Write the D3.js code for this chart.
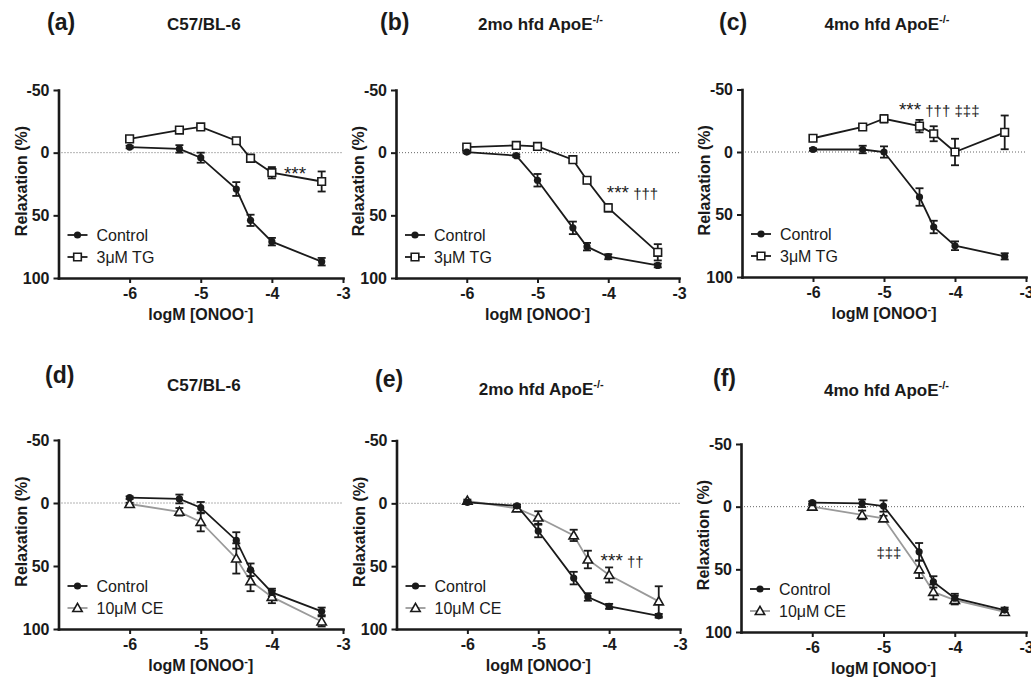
<!DOCTYPE html>
<html>
<head>
<meta charset="utf-8">
<script src="https://cdn.jsdelivr.net/npm/d3@7"></script>
<style>
  body { margin: 0; background: #fff; }
  svg { display: block; font-family: "Liberation Sans", Arial, sans-serif; }
  .note { opacity: 0.99; }
</style>
</head>
<body>
<svg id="chart" width="1031" height="680"></svg>
<script>
// log molar ONOO- doses
var doses = [-6, -5.3, -5, -4.5, -4.3, -4, -3.3];
var xTicks = [-6, -5, -4, -3];
var yTicks = [-50, 0, 50, 100];

// relaxation (%) means and SEM
var aControl    = [-4.5, -3, 4, 29, 54, 71, 87];
var aControlErr = [1, 3, 4, 5.5, 4.5, 3, 3];
var aTG         = [-11, -18, -20.5, -9.5, 4.5, 16, 23];
var aTGErr      = [1.5, 1.5, 1.5, 2, 3, 4.5, 8];

var bControl    = [-0.5, 2.4, 22, 60, 75, 83, 90];
var bControlErr = [1, 1, 5, 5, 3, 2, 1.5];
var bTG         = [-4.5, -5.8, -5, 5.6, 22, 44, 79.5];
var bTGErr      = [1.5, 1.5, 1.5, 1.5, 2.5, 3, 6.5];

var cControl    = [-2, -2, 0, 36, 60, 75, 83.5];
var cControlErr = [1, 3, 4.5, 7, 5, 3.5, 2.5];
var cTG         = [-11, -20, -26.6, -20.7, -14.6, 0, -15.7];
var cTGErr      = [1.5, 1.5, 3, 5, 6, 10.6, 13.5];

var dControl    = [-4.2, -3.2, 3.7, 29.7, 53, 71, 86];
var dControlErr = [1, 3.5, 4.5, 6.5, 5, 3, 3];
var dCE         = [0.8, 7, 15, 44, 62, 74.5, 94];
var dCEErr      = [1, 3, 7.5, 12, 8, 5, 4];

var eControl    = [-0.8, 2, 22, 59.5, 74.5, 82, 89.5];
var eControlErr = [1, 1, 5, 5, 3, 2, 1.5];
var eCE         = [-2, 4, 11.3, 25.5, 44.7, 57, 78];
var eCEErr      = [1, 1.5, 5, 4.5, 7, 6, 12];

var fControl    = [-3.2, -2.7, -0.5, 36, 60, 73, 82.5];
var fControlErr = [1, 3, 4.5, 7, 4.5, 3.5, 2];
var fCE         = [0, 6.6, 9.3, 50, 68, 74.5, 84];
var fCEErr      = [1, 3.5, 2, 7, 6, 3.5, 2];

var panels = [
  {tag: '(a)', title: 'C57/BL-6', sup: '', trtName: '3\u03bcM TG', kind: 'square',
   ctrl: aControl, ctrlErr: aControlErr, trt: aTG, trtErr: aTGErr,
   note: '***', noteAt: [-3.83, 22],
   x0: 58.5, x1: 343, y0: 90, y1: 278, tagX: 47, tagY: 30, titleY: 30},
  {tag: '(b)', title: '2mo hfd ApoE', sup: '-/-', trtName: '3\u03bcM TG', kind: 'square',
   ctrl: bControl, ctrlErr: bControlErr, trt: bTG, trtErr: bTGErr,
   note: '*** \u2020\u2020\u2020', noteAt: [-4.02, 37],
   x0: 396, x1: 679, y0: 90, y1: 278, tagX: 380, tagY: 30, titleY: 30},
  {tag: '(c)', title: '4mo hfd ApoE', sup: '-/-', trtName: '3\u03bcM TG', kind: 'square',
   ctrl: cControl, ctrlErr: cControlErr, trt: cTG, trtErr: cTGErr,
   note: '*** \u2020\u2020\u2020 \u2021\u2021\u2021', noteAt: [-4.79, -28.5],
   x0: 742, x1: 1026, y0: 89.5, y1: 277, tagX: 719, tagY: 30, titleY: 30},
  {tag: '(d)', title: 'C57/BL-6', sup: '', trtName: '10\u03bcM CE', kind: 'triangle',
   ctrl: dControl, ctrlErr: dControlErr, trt: dCE, trtErr: dCEErr,
   note: '', noteAt: [0, 0],
   x0: 58.5, x1: 343, y0: 440, y1: 629, tagX: 45, tagY: 383, titleY: 391},
  {tag: '(e)', title: '2mo hfd ApoE', sup: '-/-', trtName: '10\u03bcM CE', kind: 'triangle',
   ctrl: eControl, ctrlErr: eControlErr, trt: eCE, trtErr: eCEErr,
   note: '*** \u2020\u2020', noteAt: [-4.12, 51],
   x0: 396.5, x1: 680, y0: 440.5, y1: 629, tagX: 375, tagY: 387, titleY: 395},
  {tag: '(f)', title: '4mo hfd ApoE', sup: '-/-', trtName: '10\u03bcM CE', kind: 'triangle',
   ctrl: fControl, ctrlErr: fControlErr, trt: fCE, trtErr: fCEErr,
   note: '\u2021\u2021\u2021', noteAt: [-5.1, 41],
   x0: 741, x1: 1026, y0: 444, y1: 632, tagX: 713, tagY: 386, titleY: 396}
];

var svg = d3.select('#chart');
var ink = '#1a1a1a';

function marker(g, kind, cx, cy) {
  if (kind === 'circle') {
    g.append('circle').attr('cx', cx).attr('cy', cy).attr('r', 3.6).attr('fill', ink);
  } else {
    var sym = kind === 'square' ? d3.symbolSquare : d3.symbolTriangle;
    var size = kind === 'square' ? 58 : 38;
    g.append('path')
      .attr('d', d3.symbol().type(sym).size(size)())
      .attr('transform', 'translate(' + cx + ',' + (kind === 'triangle' ? cy + 0.8 : cy) + ')')
      .attr('fill', '#fff')
      .attr('stroke', ink)
      .attr('stroke-width', 1.6);
  }
}

function drawPanel(p) {
  var x = d3.scaleLinear().domain([-7, -3]).range([p.x0, p.x1]);
  var y = d3.scaleLinear().domain([-50, 100]).range([p.y0, p.y1]);
  var g = svg.append('g');

  // headings
  g.append('text').attr('x', p.tagX).attr('y', p.tagY)
    .attr('font-size', 23).attr('font-weight', 'bold').attr('fill', ink).text(p.tag);
  var t = g.append('text').attr('x', (p.x0 + p.x1) / 2 + 3).attr('y', p.titleY)
    .attr('text-anchor', 'middle').attr('font-size', 17).attr('font-weight', 'bold').attr('fill', ink);
  t.append('tspan').text(p.title);
  if (p.sup) t.append('tspan').attr('font-size', 11).attr('dy', -7).text(p.sup);

  // zero reference
  g.append('line')
    .attr('x1', x(-7)).attr('x2', x(-3)).attr('y1', y(0)).attr('y2', y(0))
    .attr('stroke', '#666').attr('stroke-width', 1).attr('stroke-dasharray', '1,2');

  // axes
  var yAxis = d3.axisLeft(y).tickValues(yTicks).tickSize(5).tickSizeOuter(0).tickPadding(4)
    .tickFormat(function(d) { return String(d); });
  var xAxis = d3.axisBottom(x).tickValues(xTicks).tickSize(5).tickSizeOuter(0).tickPadding(5)
    .tickFormat(function(d) { return String(d); });

  var ya = g.append('g').attr('transform', 'translate(' + p.x0 + ',0)').call(yAxis);
  var xa = g.append('g').attr('transform', 'translate(0,' + p.y1 + ')').call(xAxis);
  [ya, xa].forEach(function(a) {
    a.select('.domain').attr('stroke', ink).attr('stroke-width', 2.6).attr('stroke-linecap', 'square');
    a.selectAll('.tick line').attr('stroke', ink).attr('stroke-width', 2);
    a.selectAll('.tick text').attr('fill', ink).attr('font-size', 16).attr('font-weight', 'bold')
      .attr('font-family', '"Liberation Sans", Arial, sans-serif');
  });

  // axis titles
  g.append('text')
    .attr('transform', 'translate(' + (p.x0 - 32) + ',' + ((p.y0 + p.y1) / 2 - 3) + ') rotate(-90)')
    .attr('text-anchor', 'middle').attr('font-size', 16).attr('font-weight', 'bold').attr('fill', ink)
    .text('Relaxation (%)');
  var xt = g.append('text').attr('x', (p.x0 + p.x1) / 2).attr('y', p.y1 + 42)
    .attr('text-anchor', 'middle').attr('font-size', 16).attr('font-weight', 'bold').attr('fill', ink);
  xt.append('tspan').text('logM [ONOO');
  xt.append('tspan').attr('font-size', 11).attr('dy', -6).text('-');
  xt.append('tspan').attr('dy', 6).text(']');

  var trtLine = p.kind === 'triangle' ? '#9a9a9a' : ink;
  var line = d3.line()
    .x(function(d, i) { return x(doses[i]); })
    .y(function(d) { return y(d); });

  g.append('path').datum(p.trt).attr('d', line).attr('fill', 'none')
    .attr('stroke', trtLine).attr('stroke-width', 1.8);
  g.append('path').datum(p.ctrl).attr('d', line).attr('fill', 'none')
    .attr('stroke', ink).attr('stroke-width', 1.8);

  // error bars
  function errBars(vals, errs) {
    vals.forEach(function(v, i) {
      var cx = x(doses[i]), top = y(v - errs[i]), bot = y(v + errs[i]);
      g.append('line').attr('x1', cx).attr('x2', cx).attr('y1', top).attr('y2', bot)
        .attr('stroke', ink).attr('stroke-width', 1.8);
      [top, bot].forEach(function(yy) {
        g.append('line').attr('x1', cx - 4).attr('x2', cx + 4).attr('y1', yy).attr('y2', yy)
          .attr('stroke', ink).attr('stroke-width', 1.8);
      });
    });
  }
  errBars(p.trt, p.trtErr);
  errBars(p.ctrl, p.ctrlErr);

  p.trt.forEach(function(v, i) { marker(g, p.kind, x(doses[i]), y(v)); });
  p.ctrl.forEach(function(v, i) { marker(g, 'circle', x(doses[i]), y(v)); });

  // significance marks (asterisks drawn a bit larger, as in the figure)
  if (p.note) {
    var nt = g.append('text').attr('class', 'note')
      .attr('x', x(p.noteAt[0])).attr('y', y(p.noteAt[1])).attr('fill', ink);
    p.note.split(' ').forEach(function(part, k) {
      nt.append('tspan')
        .attr('font-size', part.indexOf('*') >= 0 ? 19 : 15)
        .text((k ? ' ' : '') + part);
    });
  }

  // legend
  var rows = [
    {name: 'Control', kind: 'circle', color: ink, dy: -43},
    {name: p.trtName, kind: p.kind, color: trtLine, dy: -21}
  ];
  rows.forEach(function(r) {
    var ly = p.y1 + r.dy;
    g.append('line').attr('x1', p.x0 + 9).attr('x2', p.x0 + 29).attr('y1', ly).attr('y2', ly)
      .attr('stroke', r.color).attr('stroke-width', 1.8);
    marker(g, r.kind, p.x0 + 19, ly);
    g.append('text').attr('x', p.x0 + 38).attr('y', ly + 5.5)
      .attr('font-size', 16).attr('fill', ink).text(r.name);
  });
}

panels.forEach(drawPanel);
</script>
</body>
</html>
